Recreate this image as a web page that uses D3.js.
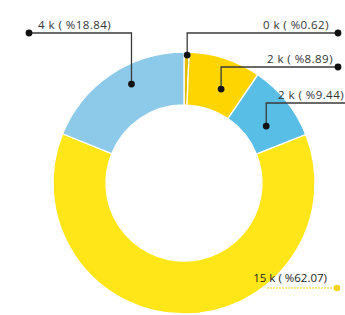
<!DOCTYPE html>
<html>
<head>
<meta charset="utf-8">
<script src="https://cdn.jsdelivr.net/npm/d3@7"></script>
<style>
  html, body { margin: 0; padding: 0; background: #fff; }
  svg { display: block; }
</style>
</head>
<body>
<div id="chart"></div>
<script>
// slices, clockwise from 12 o'clock
let names = ["a", "b", "c", "d", "e"];
let values = [0.62, 8.89, 9.44, 62.07, 18.84];
let valueLabels = ["0 k", "2 k", "2 k", "15 k", "4 k"];
let pctLabels = ["%0.62", "%8.89", "%9.44", "%62.07", "%18.84"];
let colors = ["#E3BC00", "#FFD500", "#58BEE6", "#FFE619", "#8DCAE9"];

let width = 345, height = 315;
let cx = 184, cy = 183;
let outerR = 131, innerR = 78;

// leader layout per slice: anchor (angle shift in deg, radius), elbow line y, end x
let leaders = [
  {shift: 0.3, r: 128, y: 33, endX: 338, textX: 329},
  {shift: 3.3, r: 101, y: 67, endX: 338, textX: 333},
  {shift: 4, r: 100, y: 103, endX: 370, textX: 278, anchor: "start"},
  {flat: true, y: 288, startX: 267, endX: 337, textX: 327},
  {shift: 6, r: 112, y: 33, endX: 29, textX: 38, anchor: "start"}
];

const svg = d3.select("#chart").append("svg")
    .attr("width", width)
    .attr("height", height)
    .style("font-family", "'Open Sans', sans-serif");

const pie = d3.pie().sort(null).value(d => d.v);
const data = pie(values.map((v, i) => ({v, i})));

const arc = d3.arc().innerRadius(innerR).outerRadius(outerR);

const g = svg.append("g").attr("transform", `translate(${cx},${cy})`);

g.selectAll("path")
  .data(data)
  .join("path")
    .attr("d", arc)
    .attr("fill", d => colors[d.data.i])
    .attr("stroke", "#fff")
    .attr("stroke-width", 1.3);

// leader lines + labels
const lab = svg.append("g")
    .attr("font-size", 11.5)
    .attr("letter-spacing", 0.45);

data.forEach(d => {
  const i = d.data.i;
  const L = leaders[i];
  const text = `${valueLabels[i]} ( ${pctLabels[i]})`;

  if (L.flat) {
    lab.append("line")
        .attr("x1", L.startX).attr("x2", L.endX)
        .attr("y1", L.y).attr("y2", L.y)
        .attr("stroke", "#F2D21C")
        .attr("stroke-width", 1)
        .attr("stroke-dasharray", "2,1");
    lab.append("circle")
        .attr("cx", L.endX).attr("cy", L.y).attr("r", 3.2)
        .attr("fill", "#F5D51E");
    lab.append("text")
        .attr("x", L.textX).attr("y", L.y - 6)
        .attr("text-anchor", "end")
        .attr("letter-spacing", 0)
        .attr("fill", "#222")
        .text(text);
    return;
  }

  const mid = (d.startAngle + d.endAngle) / 2 + L.shift * Math.PI / 180;
  const ax = cx + L.r * Math.sin(mid);
  const ay = cy - L.r * Math.cos(mid);

  lab.append("path")
      .attr("d", d3.line()([[ax, ay], [ax, L.y], [L.endX, L.y]]))
      .attr("fill", "none")
      .attr("stroke", "#3a3a3a")
      .attr("stroke-width", 1.3);

  lab.selectAll(null)
    .data([[ax, ay], [L.endX, L.y]])
    .join("circle")
      .attr("cx", p => p[0])
      .attr("cy", p => p[1])
      .attr("r", 3.4)
      .attr("fill", "#111");

  lab.append("text")
      .attr("x", L.textX)
      .attr("y", L.y - 4)
      .attr("text-anchor", L.anchor || "end")
      .attr("fill", "#333")
      .text(text);
});
</script>
</body>
</html>
